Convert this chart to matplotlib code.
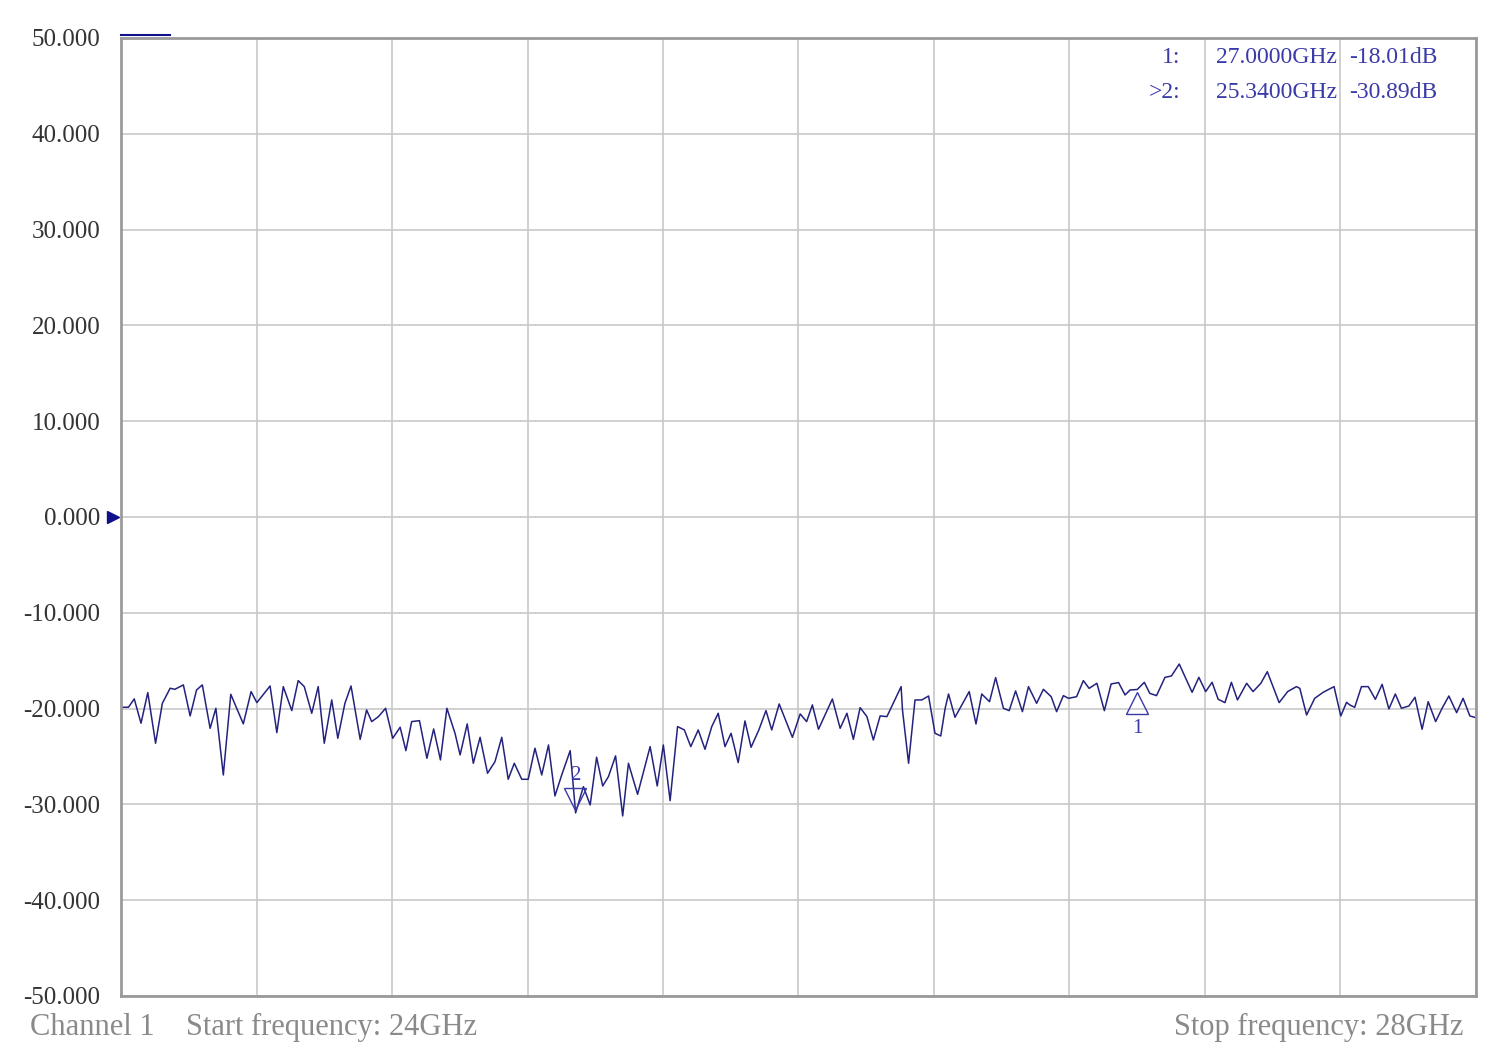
import matplotlib
matplotlib.use("Agg")
import matplotlib.pyplot as plt
from matplotlib.transforms import offset_copy

freq_ghz = [24.000, 24.002, 24.022, 24.039, 24.059, 24.079, 24.102, 24.122, 24.145, 24.159, 24.184,
            24.204, 24.223, 24.240, 24.263, 24.280, 24.302, 24.324, 24.361, 24.384, 24.401,
            24.440, 24.460, 24.479, 24.504, 24.523, 24.541, 24.563, 24.582, 24.600, 24.622,
            24.640, 24.661, 24.679, 24.706, 24.725, 24.740, 24.760, 24.781, 24.802, 24.824,
            24.841, 24.858, 24.881, 24.903, 24.923, 24.943, 24.962, 24.986, 25.001, 25.022,
            25.040, 25.060, 25.082, 25.104, 25.124, 25.143, 25.161, 25.183, 25.202, 25.222,
            25.242, 25.262, 25.281, 25.301, 25.326, 25.342, 25.365, 25.385, 25.404, 25.422,
            25.439, 25.460, 25.481, 25.498, 25.525, 25.562, 25.583, 25.601, 25.621, 25.643,
            25.663, 25.682, 25.704, 25.724, 25.744, 25.763, 25.783, 25.801, 25.822, 25.842,
            25.860, 25.883, 25.904, 25.921, 25.943, 25.982, 26.005, 26.024, 26.041, 26.059,
            26.100, 26.123, 26.143, 26.162, 26.182, 26.202, 26.221, 26.241, 26.261, 26.303,
            26.307, 26.325, 26.344, 26.364, 26.384, 26.403, 26.420, 26.433, 26.443, 26.462,
            26.504, 26.524, 26.541, 26.564, 26.582, 26.605, 26.622, 26.641, 26.661, 26.679,
            26.703, 26.723, 26.746, 26.762, 26.782, 26.797, 26.821, 26.841, 26.858, 26.881,
            26.903, 26.923, 26.945, 26.964, 26.979, 27.000, 27.021, 27.037, 27.057, 27.082,
            27.101, 27.124, 27.162, 27.182, 27.202, 27.221, 27.239, 27.259, 27.278, 27.296,
            27.323, 27.342, 27.365, 27.384, 27.419, 27.444, 27.470, 27.480, 27.500, 27.524,
            27.549, 27.581, 27.601, 27.618, 27.628, 27.642, 27.662, 27.682, 27.703, 27.723,
            27.743, 27.762, 27.780, 27.802, 27.820, 27.841, 27.859, 27.881, 27.900, 27.920,
            27.943, 27.962, 27.982, 28.000]
s11_db = [-19.86, -19.86, -19.86, -18.99, -21.53, -18.33, -23.62, -19.45, -17.88, -17.99, -17.53,
          -20.77, -18.06, -17.53, -22.06, -19.97, -26.93, -18.51, -21.60, -18.23, -19.38,
          -17.64, -22.51, -17.71, -20.21, -17.08, -17.71, -20.49, -17.71, -23.62, -19.10,
          -23.10, -19.45, -17.64, -23.21, -20.14, -21.36, -20.84, -19.97, -23.10, -21.95,
          -24.39, -21.36, -21.26, -25.19, -22.13, -25.36, -19.97, -22.58, -24.84, -21.60,
          -25.71, -23.00, -26.75, -25.54, -23.00, -27.38, -25.71, -27.38, -27.38, -24.14,
          -26.93, -23.80, -29.12, -26.93, -24.39, -30.89, -28.15, -30.06, -25.08, -28.08,
          -27.10, -24.94, -31.21, -25.71, -28.95, -23.97, -28.08, -23.80, -29.61, -21.88,
          -22.23, -23.97, -22.23, -24.25, -21.88, -20.49, -23.97, -22.58, -25.64, -21.29,
          -24.04, -22.23, -20.21, -22.23, -19.52, -23.00, -20.56, -21.36, -19.62, -22.16,
          -19.00, -22.06, -20.49, -23.21, -19.90, -20.84, -23.28, -20.77, -20.84, -17.71,
          -20.15, -25.71, -19.10, -19.10, -18.69, -22.58, -22.86, -19.97, -18.48, -20.91,
          -18.23, -21.61, -18.48, -19.28, -16.77, -19.97, -20.22, -18.16, -20.32, -17.71,
          -19.45, -17.99, -18.76, -20.32, -18.65, -18.93, -18.76, -17.08, -17.89, -17.36,
          -20.22, -17.43, -17.29, -18.58, -18.06, -18.01, -17.26, -18.41, -18.65, -16.74,
          -16.60, -15.35, -18.30, -16.74, -18.23, -17.26, -19.03, -19.38, -17.26, -19.10,
          -17.36, -18.23, -17.36, -16.15, -19.38, -18.23, -17.71, -17.89, -20.67, -18.93,
          -18.30, -17.71, -20.77, -19.35, -19.63, -19.87, -17.71, -17.71, -19.03, -17.47,
          -20.04, -18.48, -19.97, -19.73, -18.82, -22.16, -19.28, -21.36, -19.97, -18.69,
          -20.43, -18.93, -20.77, -20.95]

marker_ids = ["1", "2"]
marker_freq = [27.0000, 25.3400]
marker_db = [-18.01, -30.89]
y_ticks = [50, 40, 30, 20, 10, 0, -10, -20, -30, -40, -50]

trace_c = "#23237e"
txt_c = "#3a3aa8"
fig = plt.figure(figsize=(14.96, 10.6), dpi=100)
ax = fig.add_axes([0.0809, 0.0604, 0.9057, 0.9038])
ax.set_xlim(24, 28)
ax.set_ylim(-50, 50)
ax.set_xticks([24 + 0.4 * i for i in range(11)])
ax.set_xticklabels([])
ax.set_yticks(y_ticks)
ax.set_yticklabels([f"{v:.3f}" for v in y_ticks], family="Liberation Serif", fontsize=18, color="#333333")
ax.tick_params(length=0, pad=15)
ax.grid(True, color="#c8c8c8", lw=1.2)
for s in ax.spines.values():
    s.set_color("#9a9a9a"); s.set_linewidth(2)

ax.plot(freq_ghz, s11_db, color=trace_c, lw=1.1)

# markers
t1 = offset_copy(ax.transData, fig=fig, x=0, y=-10, units="points")
ax.plot([marker_freq[0]], [marker_db[0]], marker="^", ms=16, mfc="none", mec=txt_c, mew=1.0, transform=t1)
t1b = offset_copy(ax.transData, fig=fig, x=0, y=-28, units="points")
ax.text(marker_freq[0], marker_db[0], marker_ids[0], transform=t1b, color=txt_c, fontsize=15,
        family="Liberation Serif", ha="center", va="center")
t2 = offset_copy(ax.transData, fig=fig, x=0, y=10, units="points")
ax.plot([marker_freq[1]], [marker_db[1]], marker="v", ms=16, mfc="none", mec=txt_c, mew=1.0, transform=t2)
t2b = offset_copy(ax.transData, fig=fig, x=0, y=27, units="points")
ax.text(marker_freq[1], marker_db[1], marker_ids[1], transform=t2b, color=txt_c, fontsize=15,
        family="Liberation Serif", ha="center", va="center")

# marker table
rows_y = [0.946, 0.913]
labels = ["1:", ">2:"]
for i in range(2):
    fig.text(0.789, rows_y[i], labels[i], color=txt_c, fontsize=17, family="Liberation Serif", ha="right", va="center")
    fig.text(0.813, rows_y[i], f"{marker_freq[i]:.4f}GHz", color=txt_c, fontsize=17, family="Liberation Serif", va="center")
    fig.text(0.902, rows_y[i], f"{marker_db[i]:.2f}dB", color=txt_c, fontsize=17, family="Liberation Serif", va="center")

# reference level arrow and top bar
ax.plot([0], [0], marker=">", ms=9, color="#10108a", clip_on=False,
        transform=offset_copy(ax.get_yaxis_transform(), fig=fig, x=-6, y=0, units="points"))
ax.plot([0, 0.036], [1.003, 1.003], color="#10108a", lw=1.5, clip_on=False, transform=ax.transAxes)

fig.text(0.020, 0.031, "Channel 1", color="#8a8a8a", fontsize=22,
         family="Liberation Serif", va="center")
fig.text(0.124, 0.031, "Start frequency: 24GHz", color="#8a8a8a", fontsize=22,
         family="Liberation Serif", va="center")
fig.text(0.978, 0.031, "Stop frequency: 28GHz", color="#8a8a8a", fontsize=22,
         family="Liberation Serif", va="center", ha="right")

fig.savefig("out.png", dpi=100)
